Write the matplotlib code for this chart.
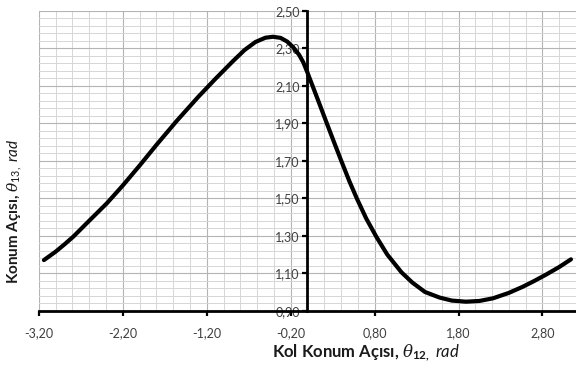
import matplotlib
matplotlib.use("Agg")
import matplotlib.pyplot as plt
from matplotlib.ticker import FixedLocator
import numpy as np

# Data
theta12 = [-3.14, -3.00, -2.90, -2.79, -2.60, -2.39, -2.20, -2.00, -1.80, -1.56,
           -1.30, -1.10, -0.89, -0.75, -0.62, -0.50, -0.41, -0.32, -0.24, -0.17,
           -0.10, -0.05, 0.00, 0.06, 0.12, 0.226, 0.32, 0.405, 0.50, 0.59,
           0.70, 0.82, 0.95, 1.12, 1.25, 1.40, 1.575, 1.72, 1.89, 2.05,
           2.21, 2.40, 2.567, 2.70, 2.845, 3.00, 3.14]
theta13 = [1.170, 1.215, 1.252, 1.295, 1.380, 1.473, 1.568, 1.674, 1.784, 1.911,
           2.041, 2.135, 2.230, 2.290, 2.333, 2.356, 2.361, 2.355, 2.335, 2.305,
           2.265, 2.225, 2.170, 2.100, 2.030, 1.905, 1.795, 1.697, 1.590, 1.497,
           1.392, 1.295, 1.200, 1.105, 1.050, 1.000, 0.970, 0.954, 0.948, 0.952,
           0.966, 0.995, 1.028, 1.058, 1.093, 1.133, 1.174]

x_ticks = [-3.2, -2.2, -1.2, -0.2, 0.8, 1.8, 2.8]
x_tick_labels = ["-3,20", "-2,20", "-1,20", "-0,20", "0,80", "1,80", "2,80"]
y_ticks = [0.9, 1.1, 1.3, 1.5, 1.7, 1.9, 2.1, 2.3, 2.5]
y_tick_labels = ["0,90", "1,10", "1,30", "1,50", "1,70", "1,90", "2,10", "2,30", "2,50"]

plt.rcParams['font.family'] = ['Lato', 'DejaVu Sans']
plt.rcParams['mathtext.fontset'] = 'custom'
plt.rcParams['mathtext.it'] = 'DejaVu Serif:italic'
plt.rcParams['mathtext.rm'] = 'Lato'
plt.rcParams['mathtext.bf'] = 'Lato:bold'
plt.rcParams['mathtext.sf'] = 'Lato:italic'

fig = plt.figure(figsize=(5.76, 3.70), dpi=100)
ax = fig.add_axes([38.9 / 576, 1 - 310.7 / 370, 1 - 38.9 / 576, 300 / 370])

ax.plot(theta12, theta13, color='black', lw=3.0, solid_capstyle='round',
        solid_joinstyle='round', zorder=5)

ax.set_xlim(-3.2, 3.2)
ax.set_ylim(0.9, 2.5)

ax.xaxis.set_major_locator(FixedLocator(x_ticks))
ax.set_xticklabels(x_tick_labels)
ax.xaxis.set_minor_locator(FixedLocator(np.arange(-3.2, 3.2001, 0.2)))
ax.yaxis.set_major_locator(FixedLocator(y_ticks))
ax.set_yticklabels(y_tick_labels)
ax.yaxis.set_minor_locator(FixedLocator(np.arange(0.9, 2.5001, 0.04)))

ax.grid(which='major', color='#b4b4b4', lw=0.8, zorder=0)
ax.grid(which='minor', color='#d6d6d6', lw=0.7, zorder=0)
ax.set_axisbelow(True)

for s in ['top', 'right']:
    ax.spines[s].set_visible(False)
ax.spines['left'].set_position(('data', 0))
ax.spines['left'].set_linewidth(2.0)
ax.spines['bottom'].set_linewidth(2.0)
ax.spines['left'].set_zorder(6)
ax.spines['bottom'].set_zorder(6)

ax.tick_params(axis='both', which='minor', length=0)
ax.tick_params(axis='x', which='major', direction='out', length=3.5, width=1.6,
               labelsize=9, labelcolor='#404040', pad=8)
ax.tick_params(axis='y', which='major', direction='out', length=3.5, width=1.6,
               labelsize=9, labelcolor='#404040', pad=2)
for lab in ax.get_yticklabels():
    lab.set_zorder(7)

fig.text(366 / 576, 1 - 353 / 370,
         r"Kol Konum Açısı, $\theta_{\mathbf{12,}}$ $\mathsf{rad}$",
         ha='center', va='center', fontsize=12, fontweight='bold', color='#1a1a1a')
fig.text(15 / 576, 1 - 211 / 370,
         r"Konum Açısı, $\theta_{13,}$ $\mathsf{rad}$",
         ha='center', va='center', rotation=90, fontsize=11, fontweight='bold',
         color='#1a1a1a')

fig.savefig("out.png", dpi=100)
